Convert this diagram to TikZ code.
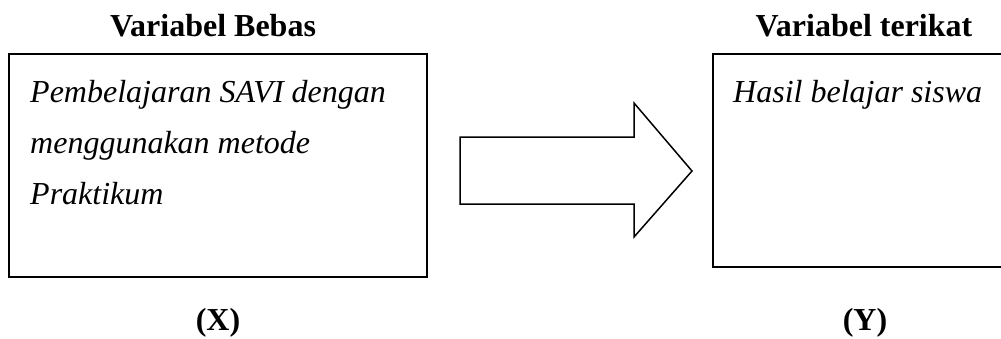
\documentclass[tikz,border=0pt]{standalone}
\usepackage{fontspec}
\setmainfont{Liberation Serif}
\begin{document}
\begin{tikzpicture}[x=1pt,y=-1pt,
  box/.style={draw=black,line width=2pt},
  title/.style={font=\fontsize{32}{38}\selectfont\bfseries,anchor=base,inner sep=0pt},
  body/.style={font=\fontsize{32}{51}\selectfont\itshape,anchor=base west,inner sep=0pt,align=left},
  bigarrow/.style={draw=black,line width=1.5pt,fill=white,line join=miter}]
\useasboundingbox (0,0) rectangle (1001,338);
% boxes
\draw[box] (9,54) rectangle (427,277);
\node[body] (xtext) at (30,204) {Pembelajaran SAVI dengan\\menggunakan metode\\Praktikum};
\draw[box] (1010,267) -- (713,267) -- (713,54) -- (1010,54);
\node[body] (ytext) at (733,102) {Hasil belajar siswa};
% titles
\node[title] (tx) at (213,36) {Variabel Bebas};
\node[title] (ty) at (864,36) {Variabel terikat};
\node[title] (lx) at (218,330) {(X)};
\node[title] (ly) at (865,330) {(Y)};
% block arrow
\draw[bigarrow] (460,137) -- (634,137) -- (634,103) -- (692,171) -- (634,237) -- (634,204) -- (460,204) -- cycle;
\end{tikzpicture}
\end{document}
